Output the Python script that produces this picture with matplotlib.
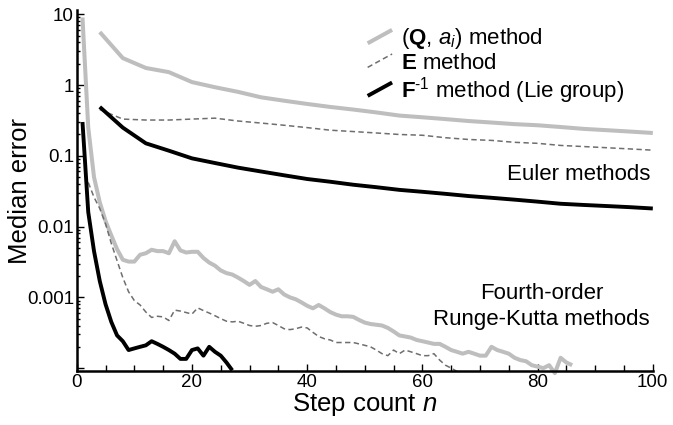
import matplotlib
matplotlib.use("Agg")
import matplotlib.pyplot as plt
from matplotlib.lines import Line2D
from matplotlib.legend_handler import HandlerLine2D
from matplotlib.ticker import FixedLocator, LogLocator, MultipleLocator, NullFormatter

plt.rcParams["font.family"] = ["Liberation Sans", "DejaVu Sans"]
plt.rcParams["mathtext.fontset"] = "custom"
plt.rcParams["mathtext.rm"] = "Liberation Sans"
plt.rcParams["mathtext.it"] = "Liberation Sans:italic"
plt.rcParams["mathtext.bf"] = "Liberation Sans:bold"

# Euler methods, sampled every 4 steps
n_euler = [4, 8, 12, 16, 20, 24, 28, 32, 36, 40, 44, 48, 52,
           56, 60, 64, 68, 72, 76, 80, 84, 88, 92, 96, 100]
euler_qa = [5.6, 2.4, 1.74, 1.52, 1.1, 0.93, 0.8, 0.67, 0.6, 0.54, 0.49, 0.45, 0.41,
            0.37, 0.35, 0.33, 0.31, 0.295, 0.28, 0.27, 0.255, 0.24, 0.23, 0.22, 0.21]
euler_e = [0.45, 0.33, 0.32, 0.32, 0.33, 0.34, 0.31, 0.29, 0.27, 0.25, 0.23, 0.22, 0.21,
           0.2, 0.195, 0.18, 0.17, 0.165, 0.155, 0.15, 0.14, 0.135, 0.13, 0.125, 0.12]
euler_f = [0.49, 0.25, 0.15, 0.118, 0.092, 0.079, 0.068, 0.06, 0.053, 0.047, 0.043, 0.039, 0.036,
           0.033, 0.031, 0.029, 0.027, 0.0255, 0.024, 0.0225, 0.021, 0.0202, 0.0195, 0.0188, 0.018]

# fourth-order Runge-Kutta, every step
n_rk_qa = list(range(1, 87))
rk_qa = [9, 0.25, 0.05, 0.022, 0.012, 0.0075, 0.0048, 0.0034, 0.0032, 0.0032,
         0.004, 0.0042, 0.0047, 0.0045, 0.0045, 0.0042, 0.0062, 0.0046, 0.0043, 0.0044,
         0.0044, 0.0036, 0.0031, 0.0028, 0.0024, 0.0022, 0.0021, 0.0019, 0.0017, 0.0015,
         0.0017, 0.0014, 0.0013, 0.0012, 0.0013, 0.0011, 0.001, 0.00094, 0.00085, 0.00076,
         0.0007, 0.00078, 0.0007, 0.00062, 0.00057, 0.00054, 0.00054, 0.00053, 0.00048, 0.00044,
         0.00042, 0.00041, 0.0004, 0.00037, 0.00033, 0.00029, 0.00028, 0.00027, 0.00025, 0.00024,
         0.00023, 0.00022, 0.00022, 0.0002, 0.00018, 0.00017, 0.00016, 0.00017, 0.00016, 0.00015,
         0.00015, 0.0002, 0.00018, 0.00017, 0.00016, 0.00014, 0.00013, 0.000125, 0.00011, 0.000105,
         0.0001, 0.00011, 0.000085, 0.00014, 0.00012, 0.00011]

n_rk_e = list(range(2, 67))
rk_e = [0.042, 0.026, 0.018, 0.011, 0.0058, 0.0033, 0.0019, 0.0012, 0.0009,
        0.00078, 0.00062, 0.00052, 0.00054, 0.00053, 0.00047, 0.00066, 0.00064, 0.00061, 0.00058,
        0.00071, 0.00065, 0.0006, 0.00055, 0.0005, 0.00046, 0.00045, 0.00046, 0.00043, 0.0004,
        0.00039, 0.0004, 0.00043, 0.00044, 0.0004, 0.00036, 0.00035, 0.00036, 0.00038, 0.00037,
        0.00032, 0.00028, 0.00026, 0.00025, 0.00023, 0.00023, 0.00023, 0.00023, 0.00022, 0.00021,
        0.0002, 0.00018, 0.00016, 0.00015, 0.00018, 0.00016, 0.00018, 0.00017, 0.00016, 0.00015,
        0.00015, 0.00016, 0.00013, 0.00011, 0.0001, 0.00009]

n_rk_f = list(range(1, 28))
rk_f = [0.3, 0.016, 0.0045, 0.0017, 0.0008, 0.00045, 0.00029, 0.00024, 0.00018, 0.00019,
        0.0002, 0.00021, 0.00024, 0.00022, 0.0002, 0.00018, 0.00016, 0.000135, 0.000135, 0.00018,
        0.00019, 0.00015, 0.0002, 0.00017, 0.00015, 0.00012, 0.000093]

labels = [r"($\mathbf{Q}$, $a_i$) method",
          r"$\mathbf{E}$ method",
          r"$\mathbf{F}^{\text{-1}}$ method (Lie group)"]

light = "#bebebf"
mid = "#6e6e6e"
dark = "#000000"


class SlantHandler(HandlerLine2D):
    """Legend key drawn as a short rising diagonal stroke."""
    def create_artists(self, legend, orig_handle, xdescent, ydescent,
                       width, height, fontsize, trans):
        x0, y0 = -xdescent, -ydescent
        line = Line2D([x0, x0 + width], [y0, y0 + height])
        self.update_prop(line, orig_handle, legend)
        line.set_transform(trans)
        return [line]


fig = plt.figure(figsize=(6.73, 4.25), dpi=100)
ax = fig.add_axes([0.114, 0.127, 0.856, 0.849])

kw_qa = dict(color=light, lw=2.9, solid_capstyle="butt")
kw_e = dict(color=mid, lw=1.1, dashes=(3.5, 2.2))
kw_f = dict(color=dark, lw=2.8, solid_capstyle="butt")

h1, = ax.plot(n_euler, euler_qa, **kw_qa)
h2, = ax.plot(n_euler, euler_e, **kw_e)
h3, = ax.plot(n_euler, euler_f, **kw_f)
ax.plot(n_rk_qa, rk_qa, clip_on=False, **kw_qa)
ax.plot(n_rk_e, rk_e, clip_on=False, **kw_e)
ax.plot(n_rk_f, rk_f, clip_on=False, **kw_f)

ax.set_yscale("log")
ax.set_xlim(0, 100)
ax.set_ylim(9.1e-5, 11.4)

ax.yaxis.set_major_locator(FixedLocator([1e-4, 1e-3, 1e-2, 1e-1, 1, 10]))
ax.set_yticklabels(["", "0.001", "0.01", "0.1", "1", "10"])
ax.yaxis.set_minor_locator(LogLocator(base=10, subs=range(2, 10), numticks=20))
ax.yaxis.set_minor_formatter(NullFormatter())
ax.xaxis.set_major_locator(MultipleLocator(20))
ax.xaxis.set_minor_locator(MultipleLocator(5))

for s in ("top", "right"):
    ax.spines[s].set_visible(False)
for s in ("left", "bottom"):
    ax.spines[s].set_linewidth(1.8)

ax.tick_params(which="both", direction="in", width=1.0, labelsize=13.5, pad=2)
ax.tick_params(axis="x", which="major", length=5)
ax.tick_params(axis="x", which="minor", length=4.5)
ax.tick_params(axis="y", which="major", length=5)
ax.tick_params(axis="y", which="minor", length=2.5)

ax.set_xlabel(r"Step count $n$", fontsize=18.5, labelpad=0)
ax.set_ylabel("Median error", fontsize=18.5)
ax.yaxis.set_label_coords(-0.077, 0.5)

ax.legend([h1, h2, h3], labels, handler_map={Line2D: SlantHandler()},
          loc="upper left", bbox_to_anchor=(0.505, 0.955), frameon=False,
          fontsize=16, handlelength=1.1, handleheight=0.55, handletextpad=0.4,
          labelspacing=0.05, borderpad=0, borderaxespad=0)

ax.text(0.995, 0.529, "Euler methods", transform=ax.transAxes,
        ha="right", va="baseline", fontsize=16)
ax.text(0.807, 0.114, "Fourth-order\nRunge-Kutta methods", transform=ax.transAxes,
        ha="center", va="bottom", multialignment="center", fontsize=16,
        linespacing=1.3)

fig.savefig("out.png", dpi=100)
